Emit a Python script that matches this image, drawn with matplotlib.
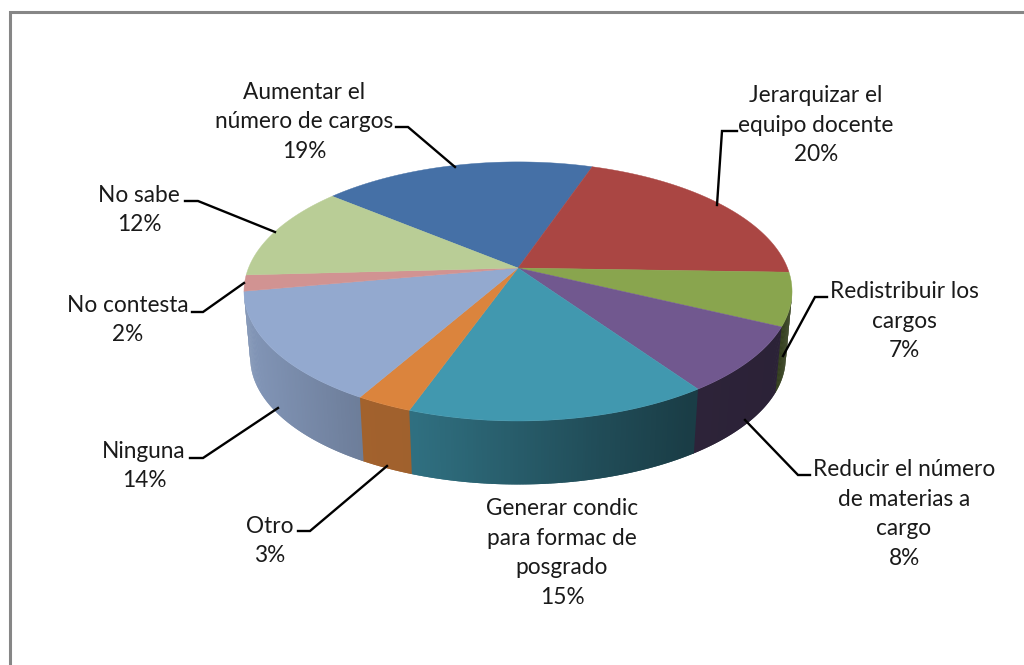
import matplotlib
matplotlib.use("Agg")
import matplotlib.pyplot as plt
from matplotlib.patches import Polygon
import numpy as np

labels = ["Aumentar el\nnúmero de cargos", "Jerarquizar el\nequipo docente", "Redistribuir los\ncargos",
          "Reducir el número\nde materias a\ncargo", "Generar condic\npara formac de\nposgrado", "Otro",
          "Ninguna", "No contesta", "No sabe"]
values = [19.2, 20.3, 6.6, 8.25, 15.05, 2.8, 13.9, 2.0, 11.9]
colors = ["#4570A6", "#AA4643", "#89A54E", "#71588F", "#4198AF", "#DB843D", "#93A9CF", "#D19392", "#B9CD96"]

START = -50.3  # degrees clockwise from the back of the pie

# label centres and leader lines, in image pixels
label_pos = [(304, 122), (816, 125), (904, 321), (904, 514), (562, 553), (270, 541), (144, 466), (128, 320), (139, 210)]
leaders = [
    [(396, 127), (408, 127), (455, 167)],
    [(737, 131), (722, 131), (717, 205)],
    [(827, 297), (815, 297), (783, 356)],
    [(810, 475), (798, 475), (745, 420)],
    None,
    [(298, 531), (310, 531), (387, 466)],
    [(190, 458), (203, 458), (278, 408)],
    [(192, 312), (203, 312), (244, 283)],
    [(185, 201), (198, 201), (275, 232)],
]

CX, CY = 518.0, 268.0
R, A, P = 269.5, 125.3, 0.181
BOTTOM_SCALE, BOTTOM_CY = 0.977, 335.0
STEP = 0.5


def project(deg, scale=1.0, cy=CY):
    a = np.radians(deg)
    yv = -np.cos(a)
    s = 1.0 / (1.0 - P * yv)
    return CX + scale * R * np.sin(a) * s, cy + scale * A * yv * s


def wall_shade(x):
    # excel's 3d lighting, bright on the left and dark to the right
    return np.interp(x, [250, 360, 415, 600, 690, 790], [0.88, 0.74, 0.73, 0.50, 0.40, 0.38])


def darken(color, f):
    rgb = np.array(matplotlib.colors.to_rgb(color))
    return tuple(rgb * f)


fig = plt.figure(figsize=(10.24, 6.65), dpi=100)
ax = fig.add_axes([0, 0, 1, 1])
ax.set_xlim(0, 1024)
ax.set_ylim(665, 0)
ax.axis("off")

# frame, only left and top edges are in the crop
ax.plot([9.5, 9.5, 1024], [665, 11.5, 11.5], color="#868686", lw=2.2, solid_joinstyle="miter")

edges = START + np.cumsum([0] + values) * 3.6

# side wall first, each quad runs a bit under the next one to avoid seams
for i, c in enumerate(colors):
    steps = np.append(np.arange(edges[i], edges[i + 1], STEP), edges[i + 1])
    for a0, a1 in zip(steps[:-1], steps[1:]):
        if -np.cos(np.radians((a0 + a1) / 2)) < P:
            continue
        x0, y0 = project(a0)
        x1, y1 = project(a1 + STEP)
        x2, y2 = project(a1 + STEP, BOTTOM_SCALE, BOTTOM_CY)
        x3, y3 = project(a0, BOTTOM_SCALE, BOTTOM_CY)
        col = darken(c, wall_shade((x0 + x1) / 2))
        ax.add_patch(Polygon([(x0, y0), (x1, y1), (x2, y2), (x3, y3)], closed=True,
                             facecolor=col, edgecolor="none", zorder=2))

# top face
for i, c in enumerate(colors):
    th = np.linspace(edges[i], edges[i + 1], 80)
    xs, ys = project(th)
    pts = [(CX, CY)] + list(zip(xs, ys))
    ax.add_patch(Polygon(pts, closed=True, facecolor=c, edgecolor=c, lw=0.3, zorder=3))

for line in leaders:
    if line is None:
        continue
    xs, ys = zip(*line)
    ax.plot(xs, ys, color="black", lw=1.7, zorder=4, solid_joinstyle="miter")

for lab, v, (x, y) in zip(labels, values, label_pos):
    ax.text(x, y, f"{lab}\n{v:.0f}%", ha="center", va="center", fontsize=16.3, family="Lato",
            color="#1a1a1a", linespacing=1.5, zorder=5)

fig.savefig("out.png", dpi=100)
